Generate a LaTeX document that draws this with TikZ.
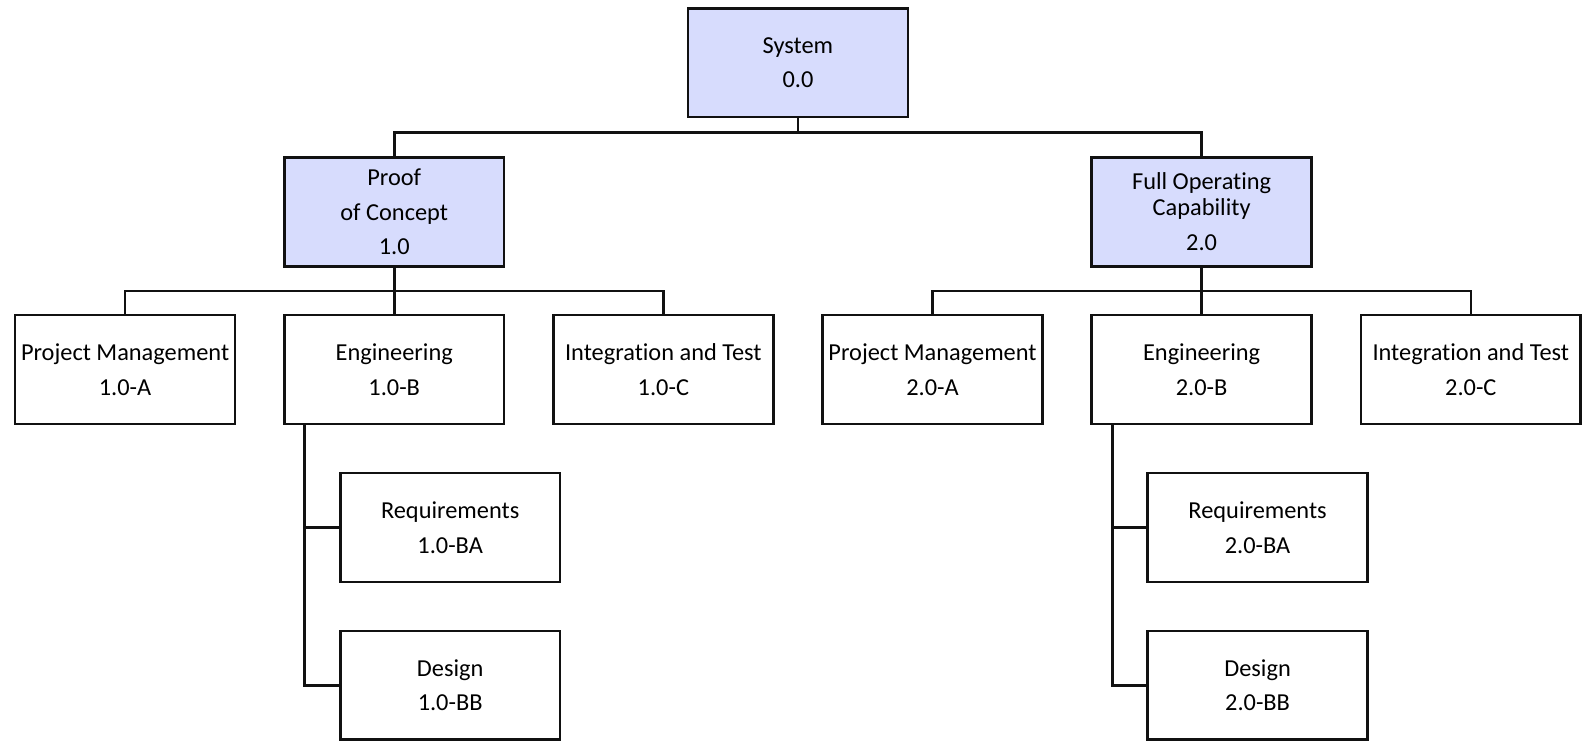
\documentclass[tikz,border=0pt]{standalone}
\usepackage{fontspec}
\setmainfont{Carlito}[Ligatures=CommonOff]
\usepackage{tikz}
\usetikzlibrary{positioning,calc}
\usepackage{xcolor}
\definecolor{PhaseFill}{HTML}{D7DCFD}
\definecolor{LineDark}{HTML}{111111}
\tikzset{
  wbsphase/.style={draw=LineDark,fill=PhaseFill,line width=1.5pt,minimum width=4.44cm,minimum height=2.2cm,align=center,inner sep=2pt,font=\fontsize{14pt}{20pt}\selectfont},
  wbsleaf/.style={draw=LineDark,fill=white,line width=1.5pt,minimum width=4.44cm,minimum height=2.2cm,align=center,inner sep=2pt,font=\fontsize{14pt}{20pt}\selectfont},
  link/.style={draw=LineDark,line width=1.5pt}
}
\begin{document}
\begin{tikzpicture}[node distance=9.35mm and 9.44mm]
\node[wbsleaf] (pm1) {Project Management\\1.0-A};
\node[wbsleaf,right=of pm1] (eng1) {Engineering\\1.0-B};
\node[wbsleaf,right=of eng1] (it1) {Integration and Test\\1.0-C};
\node[wbsleaf,right=of it1] (pm2) {Project Management\\2.0-A};
\node[wbsleaf,right=of pm2] (eng2) {Engineering\\2.0-B};
\node[wbsleaf,right=of eng2] (it2) {Integration and Test\\2.0-C};
\node[wbsphase,above=of eng1] (poc) {Proof\\of Concept\\1.0};
\node[wbsphase,above=of eng2] (foc) {Full Operating\\[-5pt]Capability\\2.0};
\node[wbsphase,anchor=south] (sys) at ($($(poc.north)!0.5!(foc.north)$)+(0,0.76)$) {System\\0.0};
\node[wbsleaf,below=of eng1,xshift=11.3mm] (req1) {Requirements\\1.0-BA};
\node[wbsleaf,below=of req1] (des1) {Design\\1.0-BB};
\node[wbsleaf,below=of eng2,xshift=11.3mm] (req2) {Requirements\\2.0-BA};
\node[wbsleaf,below=of req2] (des2) {Design\\2.0-BB};
\useasboundingbox ($(pm1.west |- sys.north)+(-0.28,0.14)$) rectangle (it2.east |- des1.south);
% top level
\draw[link] (sys.south) -- ++(0,-0.28) -| (poc.north);
\draw[link] (sys.south) -- ++(0,-0.28) -| (foc.north);
% phases
\foreach \ph/\kid in {poc/pm1,poc/eng1,poc/it1,foc/pm2,foc/eng2,foc/it2}
  \draw[link] (\ph.south) -- ++(0,-0.47) -| (\kid.north);
% engineering breakdown
\coordinate (trunk1) at ($(eng1.south west)+(0.44,0)$);
\coordinate (trunk2) at ($(eng2.south west)+(0.44,0)$);
\draw[link] (trunk1) |- (req1.west);
\draw[link] (trunk1) |- (des1.west);
\draw[link] (trunk2) |- (req2.west);
\draw[link] (trunk2) |- (des2.west);
\end{tikzpicture}
\end{document}
